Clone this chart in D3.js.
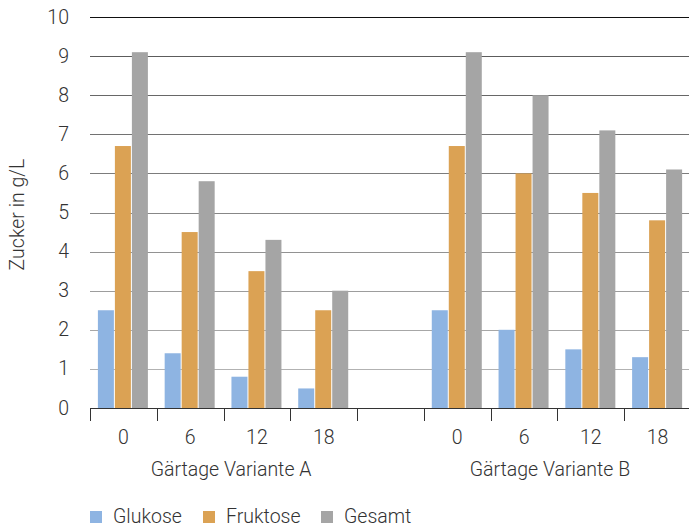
<!DOCTYPE html>
<html>
<head>
<meta charset="utf-8">
<script src="https://cdn.jsdelivr.net/npm/d3@7"></script>
<style>
  html, body { margin: 0; padding: 0; background: #fff; }
  svg { display: block; }
  text { font-family: Roboto, "Liberation Sans", sans-serif; font-weight: 300; fill: #333; }
</style>
</head>
<body>
<svg id="chart" width="689" height="528"></svg>
<script>
// ---- data ----
const categories = ["A0", "A6", "A12", "A18", "gap", "B0", "B6", "B12", "B18"];
const tickLabels = ["0", "6", "12", "18", "", "0", "6", "12", "18"];
const groups = ["Gärtage Variante A", "Gärtage Variante B"];
const groupMembers = [["A0", "A6", "A12", "A18"], ["B0", "B6", "B12", "B18"]];
const seriesNames = ["Glukose", "Fruktose", "Gesamt"];
const glukose  = [2.5, 1.4, 0.8, 0.5, null, 2.5, 2.0, 1.5, 1.3];
const fruktose = [6.7, 4.5, 3.5, 2.5, null, 6.7, 6.0, 5.5, 4.8];
const gesamt   = [9.1, 5.8, 4.3, 3.0, null, 9.1, 8.0, 7.1, 6.1];
const yTicks = [0, 1, 2, 3, 4, 5, 6, 7, 8, 9, 10];
const yTitle = "Zucker in g/L";
const colors = ["#8eb4e2", "#dba254", "#a5a5a5"];

const seriesValues = [glukose, fruktose, gesamt];

const svg = d3.select("#chart");
const margin = { left: 90, right: -2, top: 17, bottom: 120 };
const W = 689, H = 528;
const FS = "19.5px";

const x0 = d3.scaleBand().domain(categories).range([margin.left, W - margin.right]).padding(0);
const y = d3.scaleLinear().domain([0, 10]).range([H - margin.bottom, margin.top]);
const groupW = 51;
const x1 = d3.scaleBand().domain(seriesNames).range([0, groupW]).padding(0);

// gridlines
const gridColor = d3.scaleLinear().domain([1, 9]).range(["#b2b2b2", "#5c5c5c"]);
svg.append("g").selectAll("line").data(yTicks.filter(d => d > 0)).join("line")
  .attr("x1", margin.left).attr("x2", W)
  .attr("y1", d => Math.round(y(d)) + 0.5).attr("y2", d => Math.round(y(d)) + 0.5)
  .attr("stroke", d => d === 10 ? "#111" : gridColor(d))
  .attr("stroke-width", 1);

// y tick labels
svg.append("g").selectAll("text").data(yTicks).join("text")
  .attr("x", 69).attr("y", d => y(d))
  .attr("text-anchor", "end").attr("dominant-baseline", "central")
  .style("font-size", FS)
  .text(d => d);

// y title
svg.append("text")
  .attr("transform", `translate(24, ${(y(0) + y(10)) / 2 + 2}) rotate(-90)`)
  .attr("text-anchor", "middle")
  .style("font-size", FS)
  .text(yTitle);

// bars
const barData = [];
categories.forEach((c, i) => {
  seriesNames.forEach((s, j) => {
    const v = seriesValues[j][i];
    if (v != null) barData.push({ c, s, v, j });
  });
});
const off = (x0.bandwidth() - groupW) / 2;
svg.append("g").selectAll("rect").data(barData).join("rect")
  .attr("x", d => x0(d.c) + off + x1(d.s))
  .attr("width", x1.bandwidth() - 1)
  .attr("y", d => y(d.v))
  .attr("height", d => y(0) - y(d.v))
  .attr("fill", d => colors[d.j]);

// x baseline
svg.append("line")
  .attr("x1", margin.left).attr("x2", W)
  .attr("y1", Math.round(y(0)) + 0.5).attr("y2", Math.round(y(0)) + 0.5)
  .attr("stroke", "#333").attr("stroke-width", 1);

// x ticks at band boundaries
svg.append("g").selectAll("line").data(categories).join("line")
  .attr("x1", d => Math.round(x0(d)) + 0.5).attr("x2", d => Math.round(x0(d)) + 0.5)
  .attr("y1", y(0)).attr("y2", y(0) + 13)
  .attr("stroke", "#333").attr("stroke-width", 1);

// x tick labels
svg.append("g").selectAll("text").data(categories).join("text")
  .attr("x", d => x0(d) + x0.bandwidth() / 2)
  .attr("y", y(0) + 29)
  .attr("text-anchor", "middle").attr("dominant-baseline", "central")
  .style("font-size", FS)
  .text((d, i) => tickLabels[i]);

// group labels (slightly pulled toward the chart centre, as in the original)
const chartMid = (x0.range()[0] + x0.range()[1]) / 2;
svg.append("g").selectAll("text").data(groups).join("text")
  .attr("x", (d, i) => {
    const m = groupMembers[i];
    const c = (x0(m[0]) + x0(m[m.length - 1]) + x0.bandwidth()) / 2;
    return c + (chartMid - c) * 0.045;
  })
  .attr("y", y(0) + 61)
  .attr("text-anchor", "middle").attr("dominant-baseline", "central")
  .style("font-size", FS)
  .text(d => d);

// legend
const legendX = [90, 203, 321];
const lg = svg.append("g").selectAll("g").data(seriesNames).join("g")
  .attr("transform", (d, i) => `translate(${legendX[i]}, 511)`);
lg.append("rect").attr("width", 12).attr("height", 12).attr("fill", (d, i) => colors[i]);
lg.append("text").attr("x", 23).attr("y", 12)
  .style("font-size", FS)
  .text(d => d);
</script>
</body>
</html>
